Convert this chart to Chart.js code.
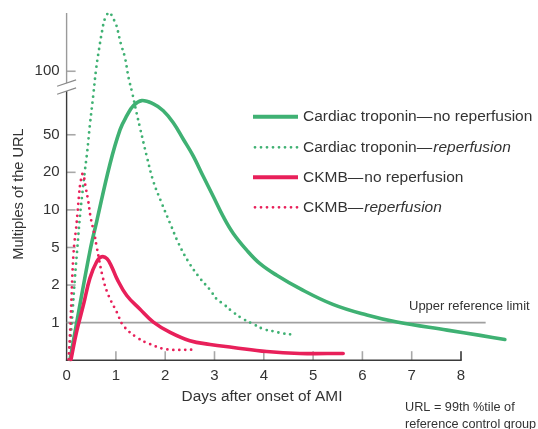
<!DOCTYPE html>
<html><head><meta charset="utf-8">
<script src="https://cdn.jsdelivr.net/npm/chart.js@4.4.1/dist/chart.umd.min.js"></script>
<style>html,body{margin:0;padding:0;background:#fff}canvas{display:block}</style>
</head><body>
<canvas id="c" width="538" height="429"></canvas>
<script>
// ---- data (multiples of the URL vs days after onset of AMI) ----
const xTickLabels = [0, 1, 2, 3, 4, 5, 6, 7, 8];
const yTickLabels = ['1', '2', '5', '10', '20', '50', '100'];
const yTickMultiples = [1, 2, 5, 10, 20, 50, 100];
// axis index of each labelled multiple (the axis has a break between 50 and 100)
const yTickIndex = [1, 2, 3, 4, 5, 6, 7.69];

const tropNoRepDays   = [0.07, 0.205, 0.47, 0.61, 0.88, 1.083, 1.219, 1.353, 1.524, 1.759, 1.961, 2.164, 2.367, 2.570, 2.773, 2.976, 3.178, 3.381, 3.653, 3.923, 4.262, 4.734, 5.40, 6.09, 6.70, 7.72, 8.39, 8.89];
const tropNoRepValues = [0.02, 1.0, 4.48, 8.07, 24.5, 52.7, 61.4, 68.6, 72.6, 70.0, 65.0, 57.0, 44.8, 29.7, 18.5, 12.8, 8.83, 6.48, 4.69, 3.37, 2.54, 1.87, 1.40, 1.15, 1.01, 0.80, 0.66, 0.55];

const tropRepDays   = [0.05, 0.09, 0.12, 0.17, 0.22, 0.27, 0.32, 0.37, 0.42, 0.47, 0.54, 0.60, 0.66, 0.72, 0.78, 0.87, 0.94, 1.00, 1.10, 1.18, 1.26, 1.33, 1.42, 1.49, 1.625, 1.76, 1.93, 2.10, 2.27, 2.47, 2.71, 2.91, 3.04, 3.18, 3.38, 3.58, 3.79, 3.99, 4.19, 4.40, 4.60];
const tropRepValues = [0.02, 0.74, 1.21, 2.42, 5.07, 8.83, 13.6, 20.6, 33.7, 55, 76.6, 103, 128, 155, 178, 190, 178, 168, 135, 117, 92.5, 79.2, 63.4, 53.8, 29.7, 16.9, 11.3, 7.79, 5.40, 3.53, 2.34, 1.83, 1.55, 1.41, 1.21, 1.07, 0.96, 0.83, 0.77, 0.71, 0.68];

const ckmbNoRepDays   = [0.09, 0.20, 0.34, 0.47, 0.61, 0.71, 0.82, 0.92, 1.02, 1.22, 1.49, 1.76, 2.10, 2.50, 2.91, 3.38, 4.06, 4.73, 5.61];
const ckmbNoRepValues = [0.02, 0.74, 1.38, 2.34, 3.53, 3.98, 3.80, 3.08, 2.34, 1.65, 1.28, 1.01, 0.74, 0.52, 0.42, 0.34, 0.23, 0.18, 0.18];

const ckmbRepDays   = [0.04, 0.06, 0.08, 0.10, 0.12, 0.14, 0.16, 0.19, 0.22, 0.25, 0.28, 0.33, 0.39, 0.44, 0.49, 0.56, 0.61, 0.74, 0.85, 1.02, 1.15, 1.42, 1.69, 2.03, 2.57];
const ckmbRepValues = [0.02, 0.47, 1.01, 1.60, 2.76, 4.28, 5.55, 6.93, 9.33, 12.8, 16.4, 19.5, 14.9, 11.7, 8.59, 6.51, 5.07, 2.34, 1.65, 1.21, 0.92, 0.61, 0.43, 0.29, 0.28];

const upperRefLimit = 1;
const upperRefDays = [0, 8.5];

const seriesNames = ['Cardiac troponin', 'Cardiac troponin', 'CKMB', 'CKMB'];
const seriesSuffix = ['no reperfusion', 'reperfusion', 'no reperfusion', 'reperfusion'];

// ---- convert a multiple of the URL to the axis index ----
function toAxis(v) {
  if (v <= 1) return v;
  const n = yTickMultiples.length;
  for (let i = 0; i < n - 1; i++) {
    const a = yTickMultiples[i], b = yTickMultiples[i + 1];
    if (v <= b) return yTickIndex[i] + (yTickIndex[i + 1] - yTickIndex[i]) * Math.log(v / a) / Math.log(b / a);
  }
  const a = yTickMultiples[n - 2], b = yTickMultiples[n - 1];
  return yTickIndex[n - 1] + (yTickIndex[n - 1] - yTickIndex[n - 2]) * Math.log(v / b) / Math.log(b / a);
}
const pts = (d, v) => d.map((x, i) => ({x: x, y: toAxis(v[i])}));

const GREEN = '#3fb173';
const RED = '#e8205a';
const FONT = '"Liberation Sans", Arial, Helvetica, sans-serif';
const TXT = '#333333';

const solid = (c) => ({borderColor: c, borderWidth: 3.6, borderCapStyle: 'round', borderJoinStyle: 'round', pointRadius: 0, fill: false, clip: false, tension: 0.4});
const dotted = (c) => ({borderColor: c, borderWidth: 2.8, borderDash: [0, 6], borderCapStyle: 'round', pointRadius: 0, fill: false, clip: false, tension: 0.4});

const decor = {
  id: 'decor',
  beforeDatasetsDraw(chart) {
    const {ctx, scales: {x, y}} = chart;
    const x0 = x.getPixelForValue(0), y0 = y.getPixelForValue(0);
    ctx.save();
    // inward y ticks
    ctx.strokeStyle = '#a8a8a8'; ctx.lineWidth = 1.6;
    yTickIndex.forEach(p => {
      const py = y.getPixelForValue(p);
      ctx.beginPath(); ctx.moveTo(x0, py); ctx.lineTo(x0 + 9, py); ctx.stroke();
    });
    // inward x ticks
    xTickLabels.forEach(d => {
      if (d === 0) return;
      const px = x.getPixelForValue(d);
      ctx.beginPath(); ctx.moveTo(px, y0); ctx.lineTo(px, y0 - 9); ctx.stroke();
    });
    // y axis, broken between 50 and 100
    const breakY = y.getPixelForValue(7.27);
    ctx.strokeStyle = '#9a9a9a'; ctx.lineWidth = 1.4;
    ctx.beginPath(); ctx.moveTo(x0, y.getPixelForValue(9.24)); ctx.lineTo(x0, breakY - 4); ctx.stroke();
    ctx.strokeStyle = '#3a3a3a';
    ctx.beginPath(); ctx.moveTo(x0, breakY + 4); ctx.lineTo(x0, y0 + 0.7); ctx.stroke();
    // break marks
    ctx.strokeStyle = '#8a8a8a'; ctx.lineWidth = 1.2;
    [-4, 4].forEach(o => {
      ctx.beginPath(); ctx.moveTo(x0 - 9.5, breakY + o + 3.2); ctx.lineTo(x0 + 9.5, breakY + o - 3.2); ctx.stroke();
    });
    // x axis
    ctx.strokeStyle = '#3a3a3a'; ctx.lineWidth = 1.4;
    ctx.beginPath(); ctx.moveTo(x0 - 0.7, y0); ctx.lineTo(x.getPixelForValue(8) + 0.7, y0); ctx.stroke();
    ctx.beginPath(); ctx.moveTo(x.getPixelForValue(8), y0); ctx.lineTo(x.getPixelForValue(8), y0 - 9); ctx.stroke();
    ctx.restore();
  },
  afterDraw(chart) {
    const {ctx} = chart;
    ctx.save();
    ctx.fillStyle = TXT;
    // axis titles
    ctx.textAlign = 'center'; ctx.textBaseline = 'middle';
    ctx.font = '15.4px ' + FONT;
    ctx.fillText('Days after onset of AMI', 262, 397);
    ctx.save();
    ctx.translate(19, 194); ctx.rotate(-Math.PI / 2);
    ctx.font = '14.6px ' + FONT;
    ctx.fillText('Multiples of the URL', 0, 0);
    ctx.restore();
    // notes
    ctx.textAlign = 'left';
    ctx.font = '13px ' + FONT;
    ctx.fillText('Upper reference limit', 409, 306);
    ctx.font = '12.7px ' + FONT;
    ctx.fillText('URL = 99th %tile of', 405, 407);
    ctx.fillText('reference control group', 405, 424.5);
    // legend
    const rows = [116.7, 147.3, 177.3, 207.3];
    const colors = [GREEN, GREEN, RED, RED];
    rows.forEach((ry, i) => {
      ctx.save();
      ctx.strokeStyle = colors[i];
      if (i % 2 === 0) {
        ctx.lineWidth = 4; ctx.lineCap = 'butt';
        ctx.beginPath(); ctx.moveTo(253, ry); ctx.lineTo(298, ry); ctx.stroke();
      } else {
        ctx.lineWidth = 2.8; ctx.lineCap = 'round'; ctx.setLineDash([0, 6]);
        ctx.beginPath(); ctx.moveTo(255, ry); ctx.lineTo(300, ry); ctx.stroke();
      }
      ctx.restore();
      let tx = 303;
      ctx.font = '15.5px ' + FONT;
      const head = seriesNames[i] + '\u2014';
      ctx.fillText(head, tx, ry);
      tx += ctx.measureText(head).width + 1;
      ctx.font = (i % 2 === 1 ? 'italic ' : '') + '15.5px ' + FONT;
      ctx.fillText(seriesSuffix[i], tx, ry);
    });
    ctx.restore();
  }
};

new Chart(document.getElementById('c'), {
  type: 'line',
  data: {
    datasets: [
      Object.assign({label: 'CKMB — no reperfusion', data: pts(ckmbNoRepDays, ckmbNoRepValues)}, solid(RED)),
      Object.assign({label: 'CKMB — reperfusion', data: pts(ckmbRepDays, ckmbRepValues)}, dotted(RED)),
      Object.assign({label: 'Cardiac troponin — no reperfusion', data: pts(tropNoRepDays, tropNoRepValues)}, solid(GREEN)),
      Object.assign({label: 'Cardiac troponin — reperfusion', data: pts(tropRepDays, tropRepValues)}, dotted(GREEN)),
      {label: 'Upper reference limit', data: upperRefDays.map(d => ({x: d, y: toAxis(upperRefLimit)})),
       borderColor: '#a0a0a0', borderWidth: 1.6, pointRadius: 0, fill: false, clip: false, tension: 0}
    ]
  },
  options: {
    responsive: false,
    animation: false,
    devicePixelRatio: 1,
    layout: {padding: {left: 0, top: 3.25, right: 27.7, bottom: 0}},
    plugins: {legend: {display: false}, tooltip: {enabled: false}},
    scales: {
      x: {
        type: 'linear', min: 0, max: 9,
        grid: {display: false, drawTicks: false}, border: {display: false},
        afterBuildTicks: (s) => { s.ticks = xTickLabels.map(v => ({value: v})); },
        afterFit: (s) => { s.height = 68.8; s.paddingLeft = 0; s.paddingRight = 0; },
        ticks: {autoSkip: false, maxRotation: 0, padding: 7, color: TXT, font: {family: FONT, size: 15}, callback: (v) => String(v)}
      },
      y: {
        type: 'linear', min: 0, max: 9.5,
        grid: {display: false, drawTicks: false}, border: {display: false},
        afterBuildTicks: (s) => { s.ticks = yTickIndex.map(v => ({value: v})); },
        afterFit: (s) => { s.width = 66.6; s.paddingTop = 0; s.paddingBottom = 0; },
        ticks: {autoSkip: false, padding: 7, color: TXT, font: {family: FONT, size: 15},
          callback: (v) => { const i = yTickIndex.indexOf(v); return i >= 0 ? yTickLabels[i] : ''; }}
      }
    }
  },
  plugins: [decor]
});
</script>
</body></html>
